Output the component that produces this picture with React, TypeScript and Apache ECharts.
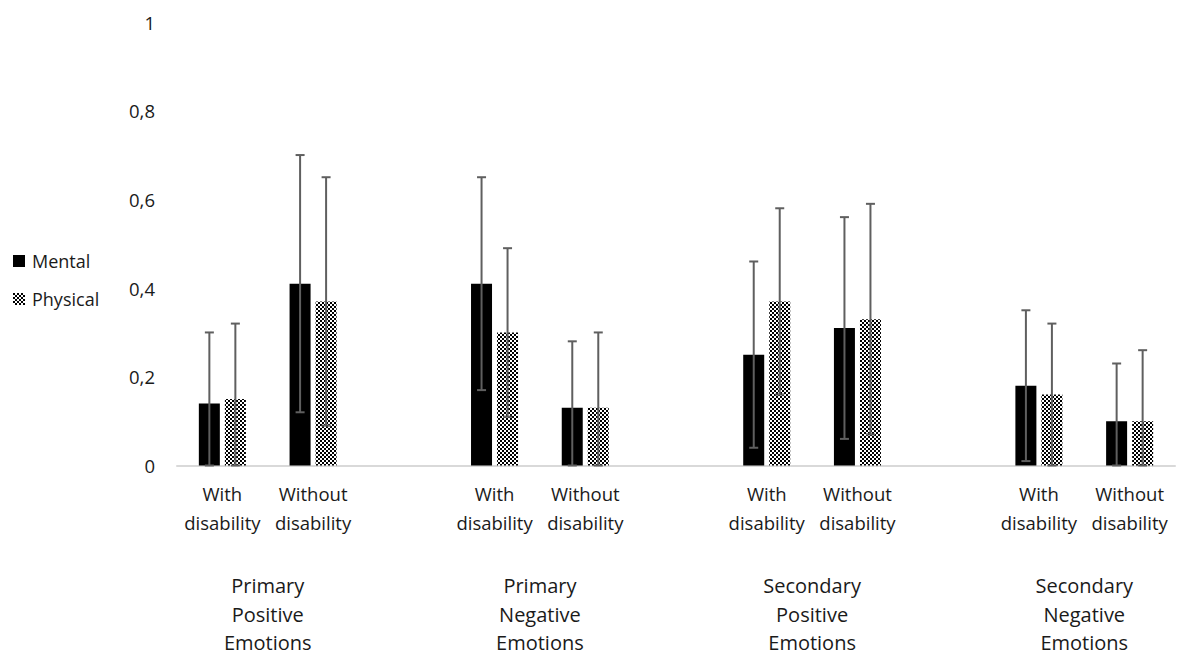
import React, { useEffect, useRef } from "react";
import * as echarts from "echarts";

const groups = [
  "Primary\nPositive\nEmotions",
  "Primary\nNegative\nEmotions",
  "Secondary\nPositive\nEmotions",
  "Secondary\nNegative\nEmotions",
];
const subgroups = ["With\ndisability", "Without\ndisability"];

const mental = [0.14, 0.41, 0.41, 0.13, 0.25, 0.31, 0.18, 0.1];
const mentalHigh = [0.3, 0.7, 0.65, 0.28, 0.46, 0.56, 0.35, 0.23];
const mentalLow = [0, 0.12, 0.17, 0, 0.04, 0.06, 0.01, 0];
const physical = [0.15, 0.37, 0.3, 0.13, 0.37, 0.33, 0.16, 0.1];
const physicalHigh = [0.32, 0.65, 0.49, 0.3, 0.58, 0.59, 0.32, 0.26];
const physicalLow = [0, 0.09, 0.11, 0, 0.16, 0.07, 0, 0];

const yTicks = [0, 0.2, 0.4, 0.6, 0.8, 1];

const FONT = "'Open Sans', sans-serif";
const TEXT = "#1a1a1a";

const checkerSvg =
  "<svg xmlns='http://www.w3.org/2000/svg' width='4' height='4'><rect width='4' height='4' fill='white'/><rect width='2' height='2' fill='black'/><rect x='2' y='2' width='2' height='2' fill='black'/></svg>";
const checkerUrl = "data:image/svg+xml;charset=utf-8," + encodeURIComponent(checkerSvg);

export default function App() {
  const ref = useRef<HTMLDivElement>(null);

  useEffect(() => {
    if (!ref.current) return;
    const chart = echarts.init(ref.current, null, { renderer: "svg" });

    const cats: string[] = [];
    const mentalData: any[] = [];
    const physicalData: any[] = [];
    const errData: number[][] = [];
    groups.forEach((g, gi) => {
      subgroups.forEach((s, si) => {
        const k = gi * 2 + si;
        const idx = cats.length;
        cats.push(s);
        mentalData.push(mental[k]);
        physicalData.push(physical[k]);
        errData.push([idx, mentalLow[k], mentalHigh[k], 0]);
        errData.push([idx, physicalLow[k], physicalHigh[k], 1]);
      });
      if (gi < groups.length - 1) {
        cats.push("");
        mentalData.push("-");
        physicalData.push("-");
      }
    });

    const groupPos: Record<number, string> = {};
    groups.forEach((g, gi) => {
      groupPos[gi * 3 + 1] = g;
    });

    const pattern: any = {
      image: checkerUrl,
      repeat: "repeat",
      imageWidth: 4,
      imageHeight: 4,
    };

    const BAR_W = 21;
    const OFF = 13;

    chart.setOption({
      animation: false,
      backgroundColor: "#fff",
      textStyle: { fontFamily: FONT },
      legend: {
        orient: "vertical",
        left: 8,
        top: 247,
        icon: "rect",
        itemWidth: 12,
        itemHeight: 12,
        itemGap: 20,
        data: ["Mental", "Physical"],
        textStyle: {
          fontFamily: FONT,
          fontSize: 18,
          color: TEXT,
          lineHeight: 18,
          padding: [0, 0, 0, 2],
        },
      },
      grid: { left: 177, top: 22, width: 1001, height: 448, containLabel: false },
      xAxis: [
        {
          type: "category",
          data: cats,
          axisLine: { show: true, lineStyle: { color: "#d9d9d9", width: 2 } },
          axisTick: { show: false },
          axisLabel: {
            interval: 0,
            fontFamily: FONT,
            fontSize: 18.5,
            lineHeight: 28.5,
            color: TEXT,
            margin: 14,
          },
        },
        {
          type: "value",
          position: "bottom",
          min: 0,
          max: 11,
          interval: 1,
          axisLine: { show: false },
          axisTick: { show: false },
          splitLine: { show: false },
          axisLabel: {
            fontFamily: FONT,
            fontSize: 20,
            lineHeight: 28.5,
            color: TEXT,
            margin: 106,
            formatter: (v: number) => groupPos[Math.round(v)] || "",
          },
        },
      ],
      yAxis: {
        type: "value",
        min: 0,
        max: 1,
        interval: 0.2,
        axisLine: { show: false },
        axisTick: { show: false },
        splitLine: { show: false },
        axisLabel: {
          fontFamily: FONT,
          fontSize: 18.5,
          color: TEXT,
          margin: 22,
          formatter: (v: number) => {
            const t = yTicks.find((y) => Math.abs(y - v) < 1e-6);
            const val = t === undefined ? v : t;
            return String(Math.round(val * 10) / 10).replace(".", ",");
          },
        },
      },
      series: [
        {
          name: "Mental",
          type: "bar",
          data: mentalData,
          barWidth: BAR_W,
          barGap: "24%",
          itemStyle: { color: "#000" },
        },
        {
          name: "Physical",
          type: "bar",
          data: physicalData,
          barWidth: BAR_W,
          barGap: "24%",
          itemStyle: { color: pattern },
        },
        {
          name: "err",
          type: "custom",
          z: 10,
          data: errData,
          encode: { x: 0, y: [1, 2] },
          renderItem: (params: any, api: any) => {
            const x = api.value(0);
            const lo = api.value(1);
            const hi = api.value(2);
            const s = api.value(3);
            const top = api.coord([x, hi]);
            const bot = api.coord([x, lo]);
            const cx = top[0] + (s === 0 ? -OFF : OFF);
            const style = { stroke: "#5f5f5f", lineWidth: 2 };
            const cap = 4.5;
            return {
              type: "group",
              children: [
                { type: "line", shape: { x1: cx, y1: top[1], x2: cx, y2: bot[1] }, style },
                { type: "line", shape: { x1: cx - cap, y1: top[1], x2: cx + cap, y2: top[1] }, style },
                { type: "line", shape: { x1: cx - cap, y1: bot[1], x2: cx + cap, y2: bot[1] }, style },
              ],
            };
          },
        },
      ],
    });

    return () => chart.dispose();
  }, []);

  return (
    <div
      ref={ref}
      style={{ position: "absolute", left: 0, top: 0, width: 1178, height: 657 }}
    />
  );
}
